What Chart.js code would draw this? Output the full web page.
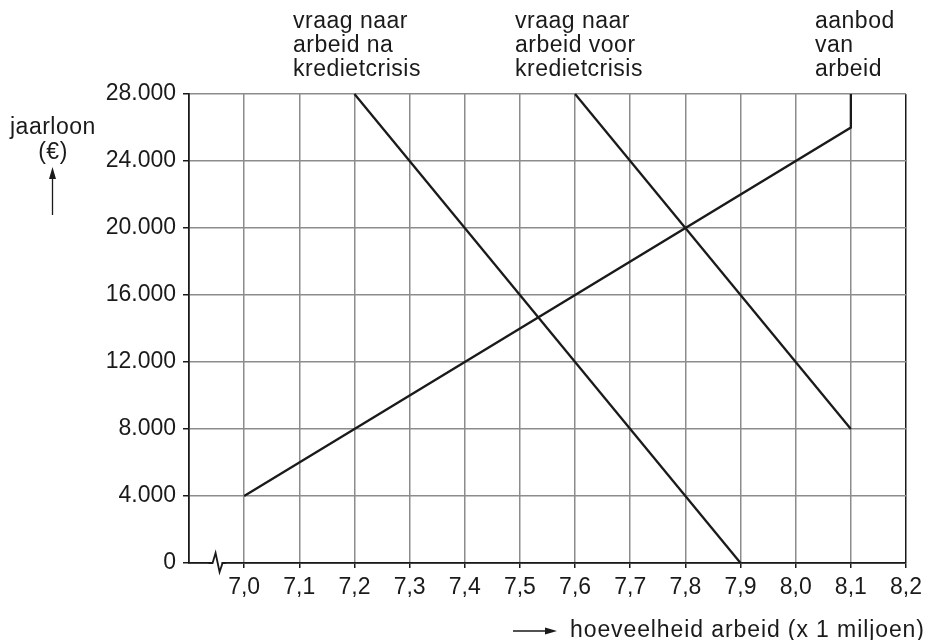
<!DOCTYPE html>
<html>
<head>
<meta charset="utf-8">
<script src="https://cdn.jsdelivr.net/npm/chart.js@4"></script>
<style>
    html, body { margin: 0; padding: 0; background: #fff; }
    #wrap { width: 928px; height: 640px; position: relative; }
</style>
</head>
<body>
<div id="wrap"><canvas id="labourChart"></canvas></div>
<script>
// aanbod van arbeid
const supplyQty = [7.0, 8.1, 8.1];
const supplyWage = [4000, 26000, 28000];
// vraag naar arbeid voor kredietcrisis
const demandBeforeQty = [7.6, 8.1];
const demandBeforeWage = [28000, 8000];
// vraag naar arbeid na kredietcrisis
const demandAfterQty = [7.2, 7.9];
const demandAfterWage = [28000, 0];

const xTicks = [7.0, 7.1, 7.2, 7.3, 7.4, 7.5, 7.6, 7.7, 7.8, 7.9, 8.0, 8.1, 8.2];
const yTicks = [0, 4000, 8000, 12000, 16000, 20000, 24000, 28000];

const FONT = '"Liberation Sans", Arial, Helvetica, sans-serif';
const INK = "#1a1a1a";
const GRID = "#8c8c8c";

function toPoints(xs, ys) {
    return xs.map((x, i) => ({ x: x, y: ys[i] }));
}

function lineSet(label, xs, ys) {
    return {
        label: label,
        data: toPoints(xs, ys),
        borderColor: INK,
        borderWidth: 2.3,
        pointRadius: 0,
        tension: 0,
        fill: false,
        clip: false
    };
}

// texts around the plot + axis break
const extras = {
    id: "extras",
    afterDraw(chart) {
        const c = chart.ctx;
        const x = chart.scales.x;
        const y0 = chart.scales.y.getPixelForValue(0);

        // zigzag break on the x axis
        const bx = x.getPixelForValue(6.95);
        c.save();
        c.fillStyle = "#fff";
        c.fillRect(bx - 6, y0 - 2, 11, 4);
        c.strokeStyle = INK;
        c.lineWidth = 1.8;
        c.beginPath();
        c.moveTo(bx - 8, y0);
        c.lineTo(bx - 4, y0);
        c.lineTo(bx - 1, y0 - 10);
        c.lineTo(bx + 3, y0 + 9);
        c.lineTo(bx + 6, y0);
        c.lineTo(bx + 9, y0);
        c.stroke();

        c.fillStyle = INK;
        c.font = "23px " + FONT;
        c.letterSpacing = "0.5px";
        c.textBaseline = "alphabetic";
        c.textAlign = "left";
        const blocks = [
            { x: 293, lines: ["vraag naar", "arbeid na", "kredietcrisis"] },
            { x: 515, lines: ["vraag naar", "arbeid voor", "kredietcrisis"] },
            { x: 815, lines: ["aanbod", "van", "arbeid"] }
        ];
        blocks.forEach(b => {
            b.lines.forEach((t, i) => c.fillText(t, b.x, 28 + i * 24));
        });

        c.fillText("jaarloon", 10, 134);
        c.textAlign = "center";
        c.fillText("(€)", 53, 159);
        c.textAlign = "left";
        c.letterSpacing = "0.9px";
        c.fillText("hoeveelheid arbeid (x 1 miljoen)", 570, 637);

        // arrows
        c.lineWidth = 1.3;
        c.beginPath();
        c.moveTo(52.5, 215);
        c.lineTo(52.5, 175);
        c.moveTo(513, 631);
        c.lineTo(550, 631);
        c.stroke();
        c.beginPath();
        c.moveTo(52.5, 167);
        c.lineTo(49, 179);
        c.lineTo(56, 179);
        c.closePath();
        c.moveTo(557, 631);
        c.lineTo(545, 627.5);
        c.lineTo(545, 634.5);
        c.closePath();
        c.fill();
        c.restore();
    }
};

const chart = new Chart(document.getElementById("labourChart"), {
    type: "line",
    data: {
        datasets: [
            lineSet("aanbod van arbeid", supplyQty, supplyWage),
            lineSet("vraag naar arbeid voor kredietcrisis", demandBeforeQty, demandBeforeWage),
            lineSet("vraag naar arbeid na kredietcrisis", demandAfterQty, demandAfterWage)
        ]
    },
    options: {
        responsive: true,
        maintainAspectRatio: false,
        animation: false,
        layout: { padding: { top: 94, right: 17, left: 0, bottom: 0 } },
        plugins: {
            legend: { display: false },
            tooltip: { enabled: false },
            title: { display: false }
        },
        scales: {
            x: {
                type: "linear",
                min: 6.9,
                max: 8.2,
                afterBuildTicks: s => { s.ticks = xTicks.map(v => ({ value: v })); },
                afterFit: s => { s.height = 77; },
                grid: {
                    color: ctx => (ctx.tick && Math.abs(ctx.tick.value - 8.2) < 1e-6) ? INK : GRID,
                    lineWidth: 1.5,
                    tickLength: 5,
                    tickColor: INK
                },
                border: { display: true, color: INK, width: 1.8 },
                ticks: {
                    color: INK,
                    padding: 6,
                    maxRotation: 0,
                    font: { family: FONT, size: 23 },
                    callback: v => v.toFixed(1).replace(".", ",")
                }
            },
            y: {
                type: "linear",
                min: 0,
                max: 28000,
                afterBuildTicks: s => { s.ticks = yTicks.map(v => ({ value: v })); },
                afterFit: s => { s.width = 189; },
                grid: {
                    color: GRID,
                    lineWidth: 1.5,
                    tickLength: 6,
                    tickColor: INK
                },
                border: { display: true, color: INK, width: 1.8 },
                ticks: {
                    color: INK,
                    padding: 7,
                    font: { family: FONT, size: 23 },
                    callback: v => String(v).replace(/\B(?=(\d{3})+(?!\d))/g, ".")
                }
            }
        }
    },
    plugins: [extras]
});
</script>
</body>
</html>
